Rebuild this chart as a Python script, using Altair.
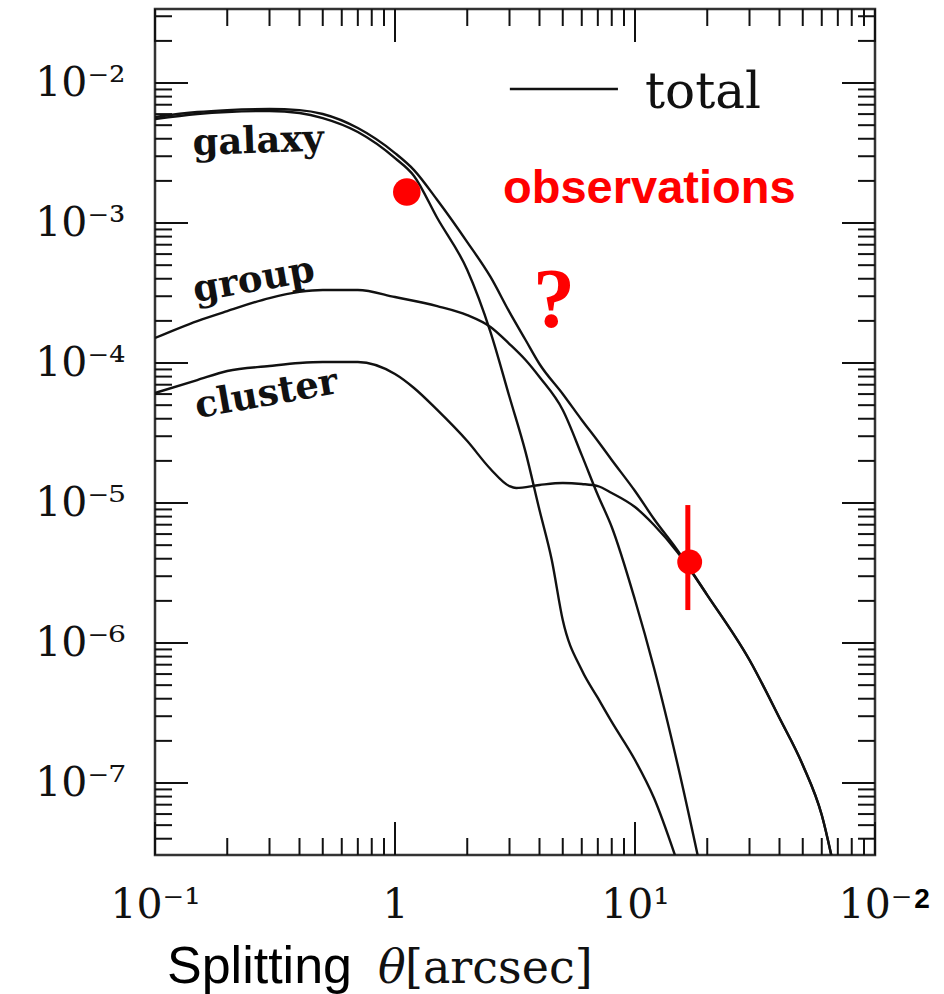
import altair as alt
import pandas as pd

# ---------------- data ----------------
galaxy_theta = [0.1, 0.15, 0.2, 0.3, 0.4, 0.5, 0.7, 1.0, 1.2, 1.5, 2, 2.5, 3, 3.5, 4, 4.5, 5, 6, 7, 8, 10, 12, 15]
galaxy_P = [5.53e-3, 6.01e-3, 6.21e-3, 6.31e-3, 6.11e-3, 5.62e-3, 4.47e-3, 2.91e-3, 2.17e-3, 1.086e-3,
            4.62e-4, 1.665e-4, 5.72e-5, 2.31e-5, 8.91e-6, 3.92e-6, 1.46e-6, 6.41e-7, 4.05e-7, 2.73e-7,
            1.46e-7, 7.81e-8, 2.73e-8]

group_theta = [0.1, 0.15, 0.2, 0.3, 0.4, 0.5, 0.7, 1.0, 1.5, 2, 2.5, 3, 3.5, 4, 5, 6, 7, 8, 10, 12, 15, 20]
group_P = [1.509e-4, 1.995e-4, 2.35e-4, 2.91e-4, 3.22e-4, 3.32e-4, 3.32e-4, 2.96e-4, 2.55e-4, 2.20e-4,
           1.81e-4, 1.367e-4, 1.05e-4, 7.94e-5, 4.62e-5, 2.20e-5, 1.14e-5, 6.74e-6, 2.03e-6, 6.63e-7,
           1.39e-7, 1.46e-8]

cluster_theta = [0.1, 0.15, 0.2, 0.3, 0.4, 0.5, 0.7, 1.0, 1.2, 1.5, 2, 2.5, 3, 3.2, 4, 5, 6, 7, 8, 10,
                 12, 15, 20, 30, 40, 50, 60, 70]
cluster_P = [6.11e-5, 7.56e-5, 8.77e-5, 9.52e-5, 1.0e-4, 1.016e-4, 1.016e-4, 8.34e-5, 6.63e-5, 4.62e-5,
             2.77e-5, 1.75e-5, 1.32e-5, 1.28e-5, 1.345e-5, 1.39e-5, 1.367e-5, 1.32e-5, 1.179e-5, 9.36e-6,
             6.97e-6, 4.47e-6, 2.20e-6, 7.56e-7, 2.91e-7, 1.345e-7, 5.91e-8, 1.84e-8]

total_theta = [0.1, 0.15, 0.2, 0.3, 0.4, 0.5, 0.7, 1.0, 1.2, 1.5, 2, 2.5, 3, 3.5, 4, 5, 6, 7, 8, 10,
               12, 15, 20, 30, 40, 50, 60, 70]
total_P = [5.72e-3, 6.21e-3, 6.41e-3, 6.52e-3, 6.41e-3, 6.01e-3, 4.77e-3, 3.16e-3, 2.39e-3, 1.46e-3,
           7.31e-4, 4.12e-4, 2.31e-4, 1.46e-4, 9.84e-5, 6.01e-5, 3.92e-5, 2.77e-5, 2.03e-5, 1.218e-5,
           7.69e-6, 4.62e-6, 2.20e-6, 7.56e-7, 2.91e-7, 1.345e-7, 5.91e-8, 1.84e-8]

# observations
obs_theta = [1.12, 16.9]
obs_P = [1.665e-3, 3.79e-6]
obs_size = [760, 620]
err_theta = [16.6]
err_lo = [1.72e-6]
err_hi = [9.67e-6]

# curve labels
label_text = ["galaxy", "group", "cluster"]
label_theta = [0.144, 0.147, 0.150]
label_P = [3.06e-3, 2.73e-4, 4.05e-5]
label_angle = [358, 350, 350]

# legend ("total") and red annotations
legend_theta = [3.01, 8.49]
legend_P = [9.06e-3, 9.06e-3]
legend_text_theta = [11.0]
legend_text_P = [6.63e-3]
obs_text_theta = [2.82]
obs_text_P = [1.39e-3]
q_theta = [4.60]
q_P = [1.81e-4]

# axis ticks
x_major = [0.1, 1, 10, 100]
x_minor = [m * 10.0 ** e for e in (-1, 0, 1) for m in range(2, 10)]
y_major = [1e-7, 1e-6, 1e-5, 1e-4, 1e-3, 1e-2]
y_minor = [m * 10.0 ** e for e in range(-8, -1) for m in range(2, 10)]
x_labels = ["10⁻¹", "1", "10¹", "10⁻"]
y_labels = ["10⁻⁷", "10⁻⁶", "10⁻⁵", "10⁻⁴", "10⁻³", "10⁻²"]

# ---------------- geometry ----------------
W, H = 720, 846
YMIN, YMAX = 3.06e-8, 3.38e-2
y_minor = [v for v in y_minor if YMIN < v < YMAX]

xs = alt.Scale(type="log", domain=[0.1, 100], nice=False)
ys = alt.Scale(type="log", domain=[YMIN, YMAX], nice=False)
INK = "#111111"
RED = "#ff0000"
SERIF = "DejaVu Serif"

x_expr = "[" + ",".join("'%s'" % s for s in x_labels) + "][round(log(datum.value)/LN10)+1]"
y_expr = "[" + ",".join("'%s'" % s for s in y_labels) + "][round(log(datum.value)/LN10)+7]"

X_AXIS = alt.Axis(values=x_major, labelExpr=x_expr, title=None, ticks=False, domain=False, grid=False,
                  labelFont=SERIF, labelFontSize=41, labelColor=INK, labelPadding=30, labelFlush=False,
                  labelOverlap=False)
Y_AXIS = alt.Axis(values=y_major, labelExpr=y_expr, title=None, ticks=False, domain=False, grid=False,
                  labelFont=SERIF, labelFontSize=41, labelColor=INK, labelPadding=30, labelOverlap=False)


def xq(field):
    return alt.X(f"{field}:Q", scale=xs, axis=X_AXIS)


def yq(field):
    return alt.Y(f"{field}:Q", scale=ys, axis=Y_AXIS)


curves = pd.concat([
    pd.DataFrame({"series": name, "theta": t, "P": p})
    for name, t, p in [("galaxy", galaxy_theta, galaxy_P), ("group", group_theta, group_P),
                       ("cluster", cluster_theta, cluster_P), ("total", total_theta, total_P)]
])

lines = alt.Chart(curves).mark_line(color=INK, strokeWidth=2.4, clip=True, interpolate="monotone").encode(
    x=xq("theta"), y=yq("P"), detail="series:N")

TW = 2


def xticks(vals, length):
    d = pd.DataFrame({"v": vals})
    bot = alt.Chart(d).mark_rule(color=INK, strokeWidth=TW).encode(x=xq("v"), y=alt.value(H), y2=alt.value(H - length))
    top = alt.Chart(d).mark_rule(color=INK, strokeWidth=TW).encode(x=xq("v"), y=alt.value(0), y2=alt.value(length))
    return [bot, top]


def yticks(vals, length):
    d = pd.DataFrame({"v": vals})
    left = alt.Chart(d).mark_rule(color=INK, strokeWidth=TW).encode(y=yq("v"), x=alt.value(0), x2=alt.value(length))
    right = alt.Chart(d).mark_rule(color=INK, strokeWidth=TW).encode(y=yq("v"), x=alt.value(W), x2=alt.value(W - length))
    return [left, right]


ticks = xticks(x_major, 33) + xticks(x_minor, 17) + yticks(y_major, 33) + yticks(y_minor, 17)

labels_df = pd.DataFrame({"text": label_text, "theta": label_theta, "P": label_P, "angle": label_angle})
curve_labels = alt.Chart(labels_df).mark_text(font=SERIF, fontSize=37, fontWeight="bold", color=INK,
                                               align="left", baseline="alphabetic").encode(
    x=xq("theta"), y=yq("P"), text="text:N", angle=alt.Angle("angle:Q", scale=None))

legend_line = alt.Chart(pd.DataFrame({"t1": [legend_theta[0]], "t2": [legend_theta[1]], "P": [legend_P[0]]})).mark_rule(
    color=INK, strokeWidth=2.5).encode(x=xq("t1"), x2="t2:Q", y=yq("P"))
legend_text = alt.Chart(pd.DataFrame({"theta": legend_text_theta, "P": legend_text_P, "text": ["total"]})).mark_text(
    font=SERIF, fontSize=50, color=INK, align="left", baseline="alphabetic").encode(x=xq("theta"), y=yq("P"), text="text:N")

obs_text = alt.Chart(pd.DataFrame({"theta": obs_text_theta, "P": obs_text_P, "text": ["observations"]})).mark_text(
    font="Liberation Sans", fontSize=47, fontWeight="bold", color=RED, align="left", baseline="alphabetic").encode(
    x=xq("theta"), y=yq("P"), text="text:N")
q_text = alt.Chart(pd.DataFrame({"theta": q_theta, "P": q_P, "text": ["?"]})).mark_text(
    font="Liberation Serif", fontSize=84, fontWeight="bold", color=RED, align="center", baseline="alphabetic").encode(
    x=xq("theta"), y=yq("P"), text="text:N")

err = alt.Chart(pd.DataFrame({"theta": err_theta, "lo": err_lo, "hi": err_hi})).mark_rule(
    color=RED, strokeWidth=5).encode(x=xq("theta"), y=yq("lo"), y2="hi:Q")
dots = alt.Chart(pd.DataFrame({"theta": obs_theta, "P": obs_P, "s": obs_size})).mark_circle(
    color=RED, opacity=1).encode(x=xq("theta"), y=yq("P"), size=alt.Size("s:Q", scale=None, legend=None))

# axis title and the odd bold "2" on the last x label
t_split = alt.Chart(pd.DataFrame({"text": ["Splitting"]})).mark_text(
    font="Liberation Sans", fontSize=52, color="#000", align="left", baseline="alphabetic").encode(
    x=alt.value(12), y=alt.value(974), text="text:N")
t_theta = alt.Chart(pd.DataFrame({"text": ["θ"]})).mark_text(
    font=SERIF, fontSize=46, fontStyle="italic", color=INK, align="left", baseline="alphabetic").encode(
    x=alt.value(223), y=alt.value(974), text="text:N")
t_unit = alt.Chart(pd.DataFrame({"text": ["[arcsec]"]})).mark_text(
    font=SERIF, fontSize=46, color=INK, align="left", baseline="alphabetic").encode(
    x=alt.value(250), y=alt.value(974), text="text:N")
t_two = alt.Chart(pd.DataFrame({"text": ["2"]})).mark_text(
    font="Liberation Sans", fontSize=28, fontWeight="bold", color="#000", align="center", baseline="middle").encode(
    x=alt.value(767), y=alt.value(891), text="text:N")

chart = alt.layer(
    lines, *ticks, curve_labels, legend_line, legend_text, obs_text, q_text, err, dots,
    t_split, t_theta, t_unit, t_two
).properties(
    width=W, height=H,
    padding={"left": 155, "top": 9, "right": 69, "bottom": 139},
    autosize=alt.AutoSizeParams(type="none"),
    background="white",
).configure_view(stroke="#333", strokeWidth=2.5)

chart.save("out.html", embed_options={"renderer": "svg", "actions": False})
